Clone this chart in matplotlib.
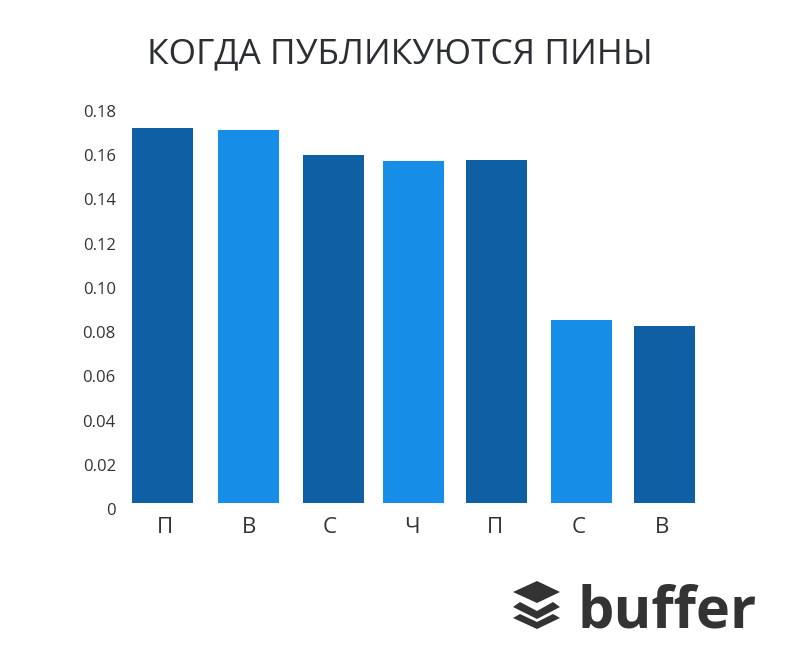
import matplotlib
matplotlib.use('Agg')
import matplotlib.pyplot as plt
from matplotlib.patches import Polygon

plt.rcParams['font.family'] = ['Open Sans', 'DejaVu Sans']

days = ['П', 'В', 'С', 'Ч', 'П', 'С', 'В']
values = [0.1723, 0.1714, 0.1601, 0.1572, 0.1578, 0.0857, 0.0828]
bar_floor = 0.0027
colors = ['#0e5fa3', '#168ee8', '#0e5fa3', '#168ee8', '#0e5fa3', '#168ee8', '#0e5fa3']
centers = [162, 248, 333, 413, 496, 581, 664]
label_centers = [165, 249, 330, 412, 495, 579, 662]
width_px = 61
yticks = [0, 0.02, 0.04, 0.06, 0.08, 0.10, 0.12, 0.14, 0.16, 0.18]
ylabels = ['0', '0.02', '0.04', '0.06', '0.08', '0.10', '0.12', '0.14', '0.16', '0.18']

W, H = 800, 670
fig = plt.figure(figsize=(W/100, H/100), dpi=100)
x0, x1 = 120, 710
y_top, y_bot = 111, 509
ax = fig.add_axes([x0/W, 1-y_bot/H, (x1-x0)/W, (y_bot-y_top)/H])
ax.bar(centers, [v - bar_floor for v in values], bottom=bar_floor, width=width_px, color=colors)
ax.set_xlim(x0, x1)
ax.set_ylim(0, 0.18)
ax.set_xticks(label_centers)
ax.set_xticklabels(days, fontsize=16, color='#333333')
ax.set_yticks(yticks)
ax.set_yticklabels(ylabels, fontsize=12, color='#333333')
ax.tick_params(length=0)
ax.tick_params(axis='x', pad=6)
ax.tick_params(axis='y', pad=3)
for s in ax.spines.values():
    s.set_visible(False)

fig.text(400/W, 1-54/H, 'КОГДА ПУБЛИКУЮТСЯ ПИНЫ', ha='center', va='center',
         fontsize=25.4, color='#2b2f33')

ov = fig.add_axes([0, 0, 1, 1])
ov.set_xlim(0, W); ov.set_ylim(H, 0); ov.axis('off')
c = '#333333'
ov.add_patch(Polygon([(537, 581), (560, 592), (537, 603), (513, 592)], closed=True, fc=c, ec='none'))
for top, tip, inner, bot in ((602, 607, 611, 619), (614, 618, 622, 629)):
    ov.add_patch(Polygon([(513, tip), (520, top), (537, inner), (553, top), (560, tip), (537, bot)],
                         closed=True, fc=c, ec='none'))
ov.text(577, 628, 'buffer', fontsize=41.5, fontweight='bold', color=c, va='baseline', ha='left')

fig.savefig('out.png', dpi=100)
